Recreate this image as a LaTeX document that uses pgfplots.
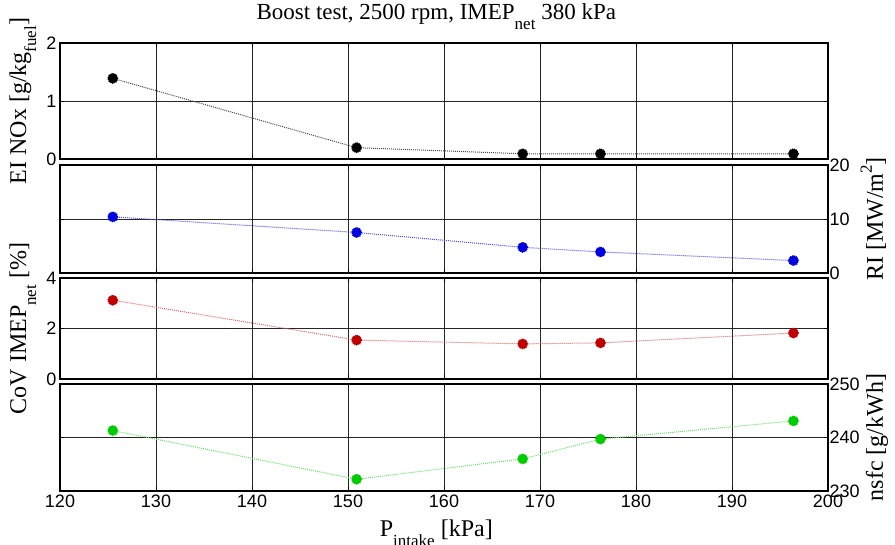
\documentclass[border=0pt]{standalone}
\usepackage{pgfplots}
\pgfplotsset{compat=1.18}
\usepackage{fontspec}
\setmainfont{Liberation Serif}
\newfontfamily\arial{Liberation Sans}
\newcommand{\lsub}[1]{\raisebox{-10pt}{\fontsize{17}{17}\selectfont #1}}
\newcommand{\lsup}[1]{\raisebox{11pt}{\fontsize{17}{17}\selectfont #1}}
\definecolor{mblue}{RGB}{0,0,225}
\definecolor{mred}{RGB}{192,0,0}
\definecolor{mgreen}{RGB}{0,204,0}
\pgfplotsset{
  panel/.style={
    scale only axis, width=768pt,
    xmin=120, xmax=200, xtick={120,130,...,200},
    grid=major, major grid style={black!85, line width=0.7pt},
    axis line style={line width=1.3pt},
    tick align=inside, tick pos=both, major tick length=4pt,
    tick style={black, line width=0.6pt},
    ticklabel style={font=\arial\fontsize{18}{18}\selectfont},
    /pgf/number format/assume math mode=true,
    label style={font=\fontsize{24}{24}\selectfont},
    clip=false,
  },
  leftlab/.style={ylabel style={at={(axis description cs:-0.044,0.5)}, anchor=base, rotate=0}},
  rightlab/.style={yticklabel pos=right, yticklabel style={inner sep=1.5pt},
     ylabel style={at={(axis description cs:1.0716,0.5)}, anchor=base, rotate=0}},
  ser/.style={mark=*, mark size=5pt, densely dotted, line width=1pt, mark options={solid}},
}
\begin{document}
\begin{tikzpicture}
\path[use as bounding box] (0,0) rectangle (895pt,545pt);
% Panel 1
\begin{axis}[panel, leftlab, at={(60pt,386pt)}, anchor=south west, height=116pt,
  ymin=0, ymax=2, ytick={0,1,2}, xticklabels={},
  ylabel={EI NOx [g/kg\lsub{fuel}]},
  title={Boost test, 2500 rpm, IMEP\lsub{net} 380 kPa},
  title style={font=\fontsize{23}{23}\selectfont, at={(axis description cs:0.49,1)}, anchor=base, yshift=17pt}]
\addplot[ser, color=black!70, mark options={fill=black, draw=black}] coordinates {
(125.5,1.39) (150.9,0.195) (168.2,0.09) (176.3,0.09) (196.4,0.09)};
\end{axis}
% Panel 2
\begin{axis}[panel, rightlab, at={(60pt,272pt)}, anchor=south west, height=108pt,
  ymin=0, ymax=20, ytick={0,10,20}, xticklabels={},
  ylabel={RI [MW/m\lsup{2}]}]
\addplot[ser, color=mblue!70, mark options={fill=mblue, draw=mblue}] coordinates {
(125.5,10.4) (150.9,7.5) (168.2,4.75) (176.3,3.9) (196.4,2.3)};
\end{axis}
% Panel 3
\begin{axis}[panel, leftlab, at={(60pt,166pt)}, anchor=south west, height=101pt,
  ymin=0, ymax=4, ytick={0,2,4}, xticklabels={},
  ylabel={CoV IMEP\lsub{net} [\%]}]
\addplot[ser, color=mred!60, mark options={fill=mred, draw=mred}] coordinates {
(125.5,3.12) (150.9,1.54) (168.2,1.39) (176.3,1.43) (196.4,1.82)};
\end{axis}
% Panel 4
\begin{axis}[panel, rightlab, at={(60pt,54pt)}, anchor=south west, height=107pt,
  ymin=230, ymax=250, ytick={230,240,250},
  ylabel={nsfc [g/kWh]},
  xlabel={P\lsub{intake} [kPa]},
  xlabel style={at={(axis description cs:0.49,0)}, anchor=base, yshift=-46pt}]
\addplot[ser, color=mgreen!60, mark options={fill=mgreen, draw=mgreen}] coordinates {
(125.5,241.3) (150.9,232.2) (168.2,236.0) (176.3,239.7) (196.4,243.1)};
\end{axis}
\end{tikzpicture}
\end{document}
